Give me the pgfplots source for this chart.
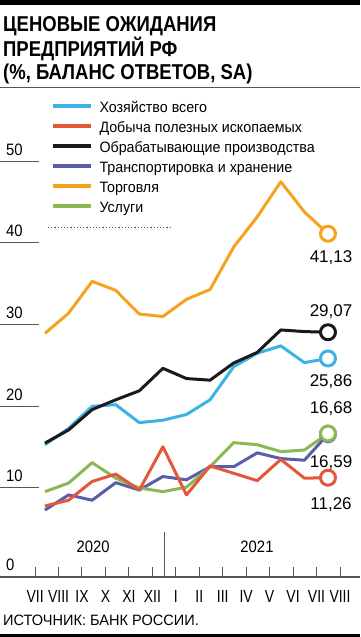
\documentclass[border=0pt]{standalone}
\usepackage{pgfplots}
\pgfplotsset{compat=1.18}
\usepackage{fontspec}
\setmainfont{Liberation Sans}
\newfontfamily\condf[FakeStretch=0.8]{Liberation Sans}
\newfontfamily\legf[FakeStretch=0.95]{Liberation Sans}
\newfontfamily\numf[FakeStretch=0.9]{Liberation Sans}
\newfontfamily\srcf[FakeStretch=0.97]{Liberation Sans}
\newfontfamily\titlef[FakeStretch=0.86]{Liberation Sans}
\definecolor{cblue}{HTML}{3BB4E5}
\definecolor{cred}{HTML}{E2583A}
\definecolor{cblack}{HTML}{1A1A1A}
\definecolor{cpurple}{HTML}{5A5DA8}
\definecolor{corange}{HTML}{F5A31F}
\definecolor{cgreen}{HTML}{8CB755}
\definecolor{axgray}{HTML}{555555}
\pgfplotstableread{
x blue red black purple orange green
0 15.3 7.8 15.5 7.3 28.94 9.55
1 17.3 8.5 17.1 9.15 31.4 10.6
2 20.0 10.8 19.6 8.5 35.3 13.1
3 20.2 11.7 20.8 10.65 34.2 11.2
4 18.0 9.75 21.9 9.75 31.3 10.0
5 18.3 15.05 24.65 11.4 31.0 9.55
6 19.0 9.15 23.4 11.0 33.1 10.1
7 20.8 12.7 23.2 12.6 34.3 12.6
8 24.85 11.8 25.3 12.6 39.5 15.55
9 26.5 10.9 26.6 14.3 43.2 15.3
10 27.4 13.5 29.35 13.6 47.5 14.45
11 25.35 11.2 29.15 13.4 43.8 14.65
12 25.86 11.26 29.07 16.59 41.13 16.68
}\datatable
\begin{document}
\begin{tikzpicture}
\useasboundingbox (0,0) rectangle (360pt,637pt);
\fill[black] (0,632pt) rectangle (360pt,637pt);
\fill[black] (0,0) rectangle (360pt,3pt);
\node[anchor=base west, inner sep=0pt, font=\titlef\bfseries\fontsize{21.5}{23}\selectfont] at (3pt,605pt) {ЦЕНОВЫЕ ОЖИДАНИЯ};
\node[anchor=base west, inner sep=0pt, font=\titlef\bfseries\fontsize{21.5}{23}\selectfont] at (3pt,580pt) {ПРЕДПРИЯТИЙ РФ};
\node[anchor=base west, inner sep=0pt, font=\titlef\bfseries\fontsize{21.5}{23}\selectfont] at (3pt,557pt) {(\%, БАЛАНС ОТВЕТОВ, SA)};
\draw[axgray, line width=1pt] (0,549.5pt) -- (360pt,549.5pt);
\node[anchor=base west, inner sep=0pt, font=\srcf\fontsize{15}{16}\selectfont] at (3pt,12pt) {ИСТОЧНИК: БАНК РОССИИ.};
\begin{axis}[at={(0,60pt)}, anchor=south west, scale only axis,
  width=360pt, height=490pt,
  xmin=-1.908, xmax=13.358, ymin=-0.9, ymax=59.1,
  axis x line=bottom, axis y line=left,
  x axis line style={-, draw=axgray, line width=1.3pt},
  y axis line style={draw=none},
  tick align=inside,
  xtick={-0.42,0.575,1.569,2.564,3.558,4.553,5.548,6.542,7.537,8.531,9.526,10.521,11.515,12.51},
  xticklabels={VII,VIII,IX,X,XI,XII,I,II,III,IV,V,VI,VII,VIII},
  xtick style={draw=axgray, line width=1pt, /pgfplots/major tick length=10pt},
  ytick={-0.9,10,20,30,40,50},
  yticklabels={0,10,20,30,40,50},
  ytick style={draw=none},
  /pgf/number format/assume math mode=true,
  xticklabel style={font=\condf\fontsize{17.5}{17}\selectfont, anchor=base, yshift=-26pt, inner sep=0pt},
  yticklabel style={font=\numf\fontsize{16.5}{17}\selectfont, anchor=base west, xshift=6pt, yshift=6pt, inner sep=0pt},
  clip=false,
  legend style={at={(axis cs:0.242,57.2)}, anchor=north west, draw=none, fill=none, inner sep=0pt,
    row sep=7pt, font=\legf\fontsize{15}{16}\selectfont,
    nodes={inner sep=0pt, text height=10pt, text depth=3pt}},
  legend cell align=left,
  legend image code/.code={\draw[#1, line width=4pt, line cap=butt] (0pt,3.5pt) -- (37.6pt,3.5pt);},
  every axis plot/.append style={line width=3pt, line join=round},
]
\addlegendimage{cblue}\addlegendentry{\hspace{7pt}Хозяйство всего}
\addlegendimage{cred}\addlegendentry{\hspace{7pt}Добыча полезных ископаемых}
\addlegendimage{cblack}\addlegendentry{\hspace{7pt}Обрабатывающие производства}
\addlegendimage{cpurple}\addlegendentry{\hspace{7pt}Транспортировка и хранение}
\addlegendimage{corange}\addlegendentry{\hspace{7pt}Торговля}
\addlegendimage{cgreen}\addlegendentry{\hspace{7pt}Услуги}
\pgfplotsinvokeforeach{10,20,30,40,50}{\draw[axgray, line width=1pt] (axis cs:-1.908,#1) -- (axis cs:-0.254,#1);}
\addplot[corange, no marks, forget plot] table[x=x, y=orange] {\datatable};
\addplot[cblue, no marks, forget plot] table[x=x, y=blue] {\datatable};
\addplot[cblack, no marks, forget plot] table[x=x, y=black] {\datatable};
\addplot[cpurple, no marks, forget plot] table[x=x, y=purple] {\datatable};
\addplot[cgreen, no marks, forget plot] table[x=x, y=green] {\datatable};
\addplot[cred, no marks, forget plot] table[x=x, y=red] {\datatable};
\addplot[only marks, forget plot, mark=*, mark size=7.5pt, mark options={draw=corange, fill=white, line width=3pt}] coordinates {(12,41.13)};
\addplot[only marks, forget plot, mark=*, mark size=7.5pt, mark options={draw=cblack, fill=white, line width=3pt}] coordinates {(12,29.07)};
\addplot[only marks, forget plot, mark=*, mark size=7.5pt, mark options={draw=cblue, fill=white, line width=3pt}] coordinates {(12,25.86)};
\addplot[only marks, forget plot, mark=*, mark size=7.5pt, mark options={draw=cpurple, fill=white, line width=3pt}] coordinates {(12,16.59)};
\addplot[only marks, forget plot, mark=*, mark size=7.5pt, mark options={draw=cgreen, fill=white, line width=3pt}] coordinates {(12,16.68)};
\addplot[only marks, forget plot, mark=*, mark size=7.5pt, mark options={draw=cred, fill=white, line width=3pt}] coordinates {(12,11.26)};
\draw[axgray, line width=1pt] (axis cs:5.05,-0.9) -- (axis cs:5.05,4.6);
\draw[axgray, line width=1pt, dash pattern=on 1.2pt off 2pt] (axis cs:0.13,41.92) -- (axis cs:5.39,41.92);
\node[anchor=base, font=\numf\fontsize{16.5}{16}\selectfont] at (axis cs:2.04,2.04) {2020};
\node[anchor=base, font=\numf\fontsize{16.5}{16}\selectfont] at (axis cs:8.99,2.04) {2021};
\tikzset{vl/.style={anchor=base, inner sep=0pt, font=\fontsize{17}{17}\selectfont}}
\node[vl] at (axis cs:12.13,37.67) {41,13};
\node[vl] at (axis cs:12.13,30.94) {29,07};
\node[vl] at (axis cs:12.13,22.37) {25,86};
\node[vl] at (axis cs:12.13,19.18) {16,68};
\node[vl] at (axis cs:12.13,12.45) {16,59};
\node[vl] at (axis cs:12.13,7.31) {11,26};
\end{axis}
\end{tikzpicture}
\end{document}
